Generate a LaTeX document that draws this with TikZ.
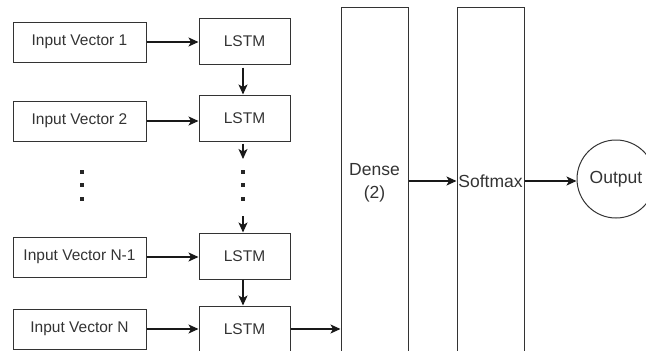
\documentclass[tikz,border=0pt]{standalone}
\usepackage{fontspec}
\setmainfont{Liberation Sans}
\usetikzlibrary{arrows.meta}
\begin{document}
\begin{tikzpicture}[x=1pt,y=-1pt,
  box/.style={draw=black!80,line width=1pt,minimum width=133pt,minimum height=40pt,inner sep=0pt,text=black!80,font=\fontsize{15.5}{18}\selectfont},
  lstmbox/.style={draw=black!80,line width=1pt,minimum width=91pt,minimum height=46pt,inner sep=0pt,text=black!80,font=\fontsize{15.5}{18}\selectfont},
  tallbox/.style={draw=black!80,line width=1pt,minimum width=67pt,minimum height=352pt,inner sep=0pt,text=black!80,font=\fontsize{17.5}{23}\selectfont,align=center},
  outcirc/.style={draw=black!80,line width=1pt,circle,minimum size=78pt,inner sep=0pt,text=black!80,font=\fontsize{17.5}{21}\selectfont},
  arr/.style={-{Stealth[length=10pt,width=9pt,inset=2.5pt]},line width=1.1pt,black!90},
  dotmark/.style={rectangle,fill=black!85,inner sep=0pt,minimum size=3.8pt}]
\useasboundingbox (0,0) rectangle (646,351);
\clip (0,0) rectangle (646,351);

\node[box] (in1) at (79.5,42) {Input Vector 1};
\node[box] (in2) at (79.5,121) {Input Vector 2};
\node[box] (inN1) at (79.5,257) {Input Vector N-1};
\node[box] (inN) at (79.5,329) {Input Vector N};

\node[lstmbox] (l1) at (244.5,41) {LSTM};
\node[lstmbox] (l2) at (244.5,118) {LSTM};
\node[lstmbox] (lN1) at (244.5,256) {LSTM};
\node[lstmbox] (lN) at (244.5,329) {LSTM};

\node[tallbox] (dense) at (374.5,183) {Dense\\(2)};
\node[tallbox] (soft) at (490.5,183) {};
\node[font=\fontsize{17.5}{21}\selectfont,text=black!80,inner sep=0pt] (softlbl) at (490.5,181) {Softmax};
\node[outcirc] (out) at (616,179) {Output};

\node[dotmark] (a1) at (82,172) {};
\node[dotmark] (a2) at (82,185) {};
\node[dotmark] (a3) at (82,199) {};
\node[dotmark] (b1) at (243,172) {};
\node[dotmark] (b2) at (243,185) {};
\node[dotmark] (b3) at (243,199) {};

\coordinate (s2) at (243,159);
\coordinate (sN) at (243,216);

\draw[arr] (in1.east) -- (in1.east -| l1.west);
\draw[arr] (in2.east) -- (in2.east -| l2.west);
\draw[arr] (inN1.east) -- (inN1.east -| lN1.west);
\draw[arr] (inN.east) -- (inN.east -| lN.west);

\draw[arr] ([yshift=-3pt]l1.south -| s2) -- (l2.north -| s2);
\draw[arr] ([yshift=-2pt]l2.south -| s2) -- (s2);
\draw[arr] (sN) -- (lN1.north -| sN);
\draw[arr] (lN1.south -| sN) -- (lN.north -| sN);

\draw[arr] (lN.east) -- (lN.east -| dense.west);
\draw[arr] (dense.east |- softlbl) -- (soft.west |- softlbl);
\draw[arr] (soft.east |- softlbl) -- (out.west |- softlbl);
\end{tikzpicture}
\end{document}
